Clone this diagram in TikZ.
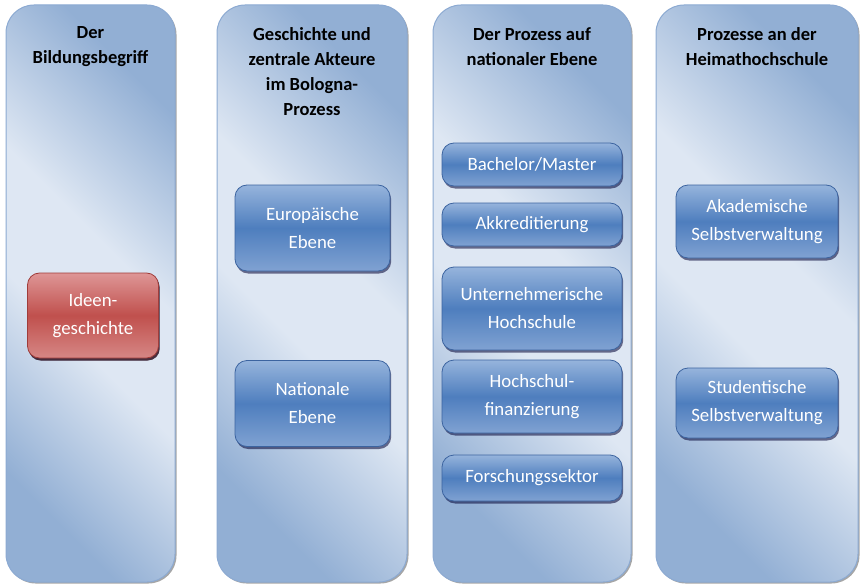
\documentclass[tikz,border=0pt]{standalone}
\usepackage{fontspec}
\setmainfont{Carlito}
\usetikzlibrary{shadows}
\definecolor{colLight}{RGB}{222,231,243}
\definecolor{colDark}{RGB}{146,175,212}
\definecolor{colBorder}{RGB}{140,170,210}
\definecolor{boxTop}{RGB}{150,180,220}
\definecolor{boxMid}{RGB}{78,126,190}
\definecolor{boxBot}{RGB}{128,162,210}
\definecolor{boxBorder}{RGB}{60,100,160}
\definecolor{redTop}{RGB}{222,150,150}
\definecolor{redMid}{RGB}{192,80,77}
\definecolor{redBot}{RGB}{214,135,133}
\definecolor{redBorder}{RGB}{160,60,58}
\pgfdeclareverticalshading{colshade}{100bp}{color(0bp)=(colDark); color(25bp)=(colDark); color(44bp)=(colLight); color(56bp)=(colLight); color(75bp)=(colDark); color(100bp)=(colDark)}
\tikzset{
  colbox/.style={rounded corners=28pt, draw=colBorder, line width=1pt,
    shading=colshade, shading angle=-45,
    inner sep=0pt,
    drop shadow={shadow xshift=1.5pt, shadow yshift=-1.5pt, fill=black, opacity=0.35}},
  coltitle/.style={font=\bfseries\fontsize{18.5}{25}\selectfont, align=center, text=black, inner sep=0pt},
  inbox/.style={rounded corners=12pt, draw=boxBorder, line width=0.8pt,
    top color=boxTop, bottom color=boxBot, middle color=boxMid,
    text=white, font=\fontsize{18.8}{28}\selectfont, align=center, inner sep=0pt,
    drop shadow={shadow xshift=1.2pt, shadow yshift=-2.5pt, fill=black!80!blue, opacity=0.55}},
  redbox/.style={inbox, draw=redBorder, top color=redTop, bottom color=redBot, middle color=redMid,
    drop shadow={shadow xshift=1.2pt, shadow yshift=-2.5pt, fill=black!80!red, opacity=0.55}}
}
\begin{document}
\begin{tikzpicture}[x=1pt,y=-1pt]
\useasboundingbox (0,0) rectangle (860,586);
% columns
\node[colbox, minimum width=169pt, minimum height=577pt] (c1) at (90.5,293.5) {};
\node[colbox, minimum width=190pt, minimum height=577pt] (c2) at (312,293.5) {};
\node[colbox, minimum width=198pt, minimum height=577pt] (c3) at (532,293.5) {};
\node[colbox, minimum width=202pt, minimum height=577pt] (c4) at (757,293.5) {};
% titles
\node[coltitle] (t1) at (90.5,47) {Der\\Bildungsbegriff};
\node[coltitle] (t2) at (312,72) {Geschichte und\\zentrale Akteure\\im Bologna-\\Prozess};
\node[coltitle] (t3) at (532,47) {Der Prozess auf\\nationaler Ebene};
\node[coltitle] (t4) at (757,47) {Prozesse an der\\Heimathochschule};
% column 1
\node[redbox, minimum width=131pt, minimum height=85pt] (b1) at (93,315.5) {Ideen-\\geschichte};
% column 2
\node[inbox, minimum width=155pt, minimum height=86pt] (e1) at (312.5,228) {Europäische\\Ebene};
\node[inbox, minimum width=155pt, minimum height=86pt] (e2) at (312.5,403.5) {Nationale\\Ebene};
% column 3
\node[inbox, minimum width=180pt, minimum height=43pt] (p1) at (532,164.5) {Bachelor/Master};
\node[inbox, minimum width=180pt, minimum height=43pt] (p2) at (532,224.5) {Akkreditierung};
\node[inbox, minimum width=180pt, minimum height=83pt] (p3) at (532,308.5) {Unternehmerische\\Hochschule};
\node[inbox, minimum width=180pt, minimum height=73pt] (p4) at (532,396.5) {Hochschul-\\finanzierung};
\node[inbox, minimum width=180pt, minimum height=46pt] (p5) at (532,478) {Forschungssektor};
% column 4
\node[inbox, minimum width=162pt, minimum height=73pt] (q1) at (757,221.5) {Akademische\\Selbstverwaltung};
\node[inbox, minimum width=162pt, minimum height=70pt] (q2) at (757,403) {Studentische\\Selbstverwaltung};
\end{tikzpicture}
\end{document}
